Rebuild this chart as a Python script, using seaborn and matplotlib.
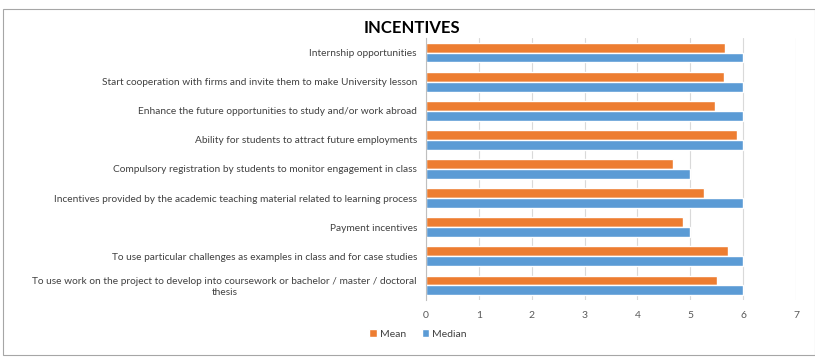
import numpy as np
import pandas as pd
import matplotlib.pyplot as plt
import seaborn as sns
from matplotlib.patches import Rectangle

# Chart data
categories = [
    "Internship opportunities",
    "Start cooperation with firms and invite them to make University lesson",
    "Enhance the future opportunities to study and/or work abroad",
    "Ability for students to attract future employments",
    "Compulsory registration by students to monitor engagement in class",
    "Incentives provided by the academic teaching material related to learning process",
    "Payment incentives",
    "To use particular challenges as examples in class and for case studies",
    "To use work on the project to develop into coursework or bachelor / master / doctoral\nthesis",
]
mean_vals = [5.65, 5.63, 5.46, 5.88, 4.67, 5.26, 4.86, 5.71, 5.50]
median_vals = [6, 6, 6, 6, 5, 6, 5, 6, 6]
series = ["Mean", "Median"]

df = pd.DataFrame({
    "category": categories * 2,
    "value": mean_vals + median_vals,
    "series": ["Mean"] * len(categories) + ["Median"] * len(categories),
})

sns.set_style("white")
plt.rcParams["font.family"] = ["Lato", "DejaVu Sans"]

fig = plt.figure(figsize=(8.15, 3.64), dpi=100)
ax = fig.add_axes([426 / 815, 1 - 300 / 364, 370 / 815, 262 / 364])

sns.barplot(data=df, y="category", x="value", hue="series", order=categories,
            hue_order=series, palette=["#ED7D31", "#5B9BD5"], orient="h",
            width=0.68, saturation=1, ax=ax)

ax.set_xlim(0, 7)
ax.set_xticks(range(8))
ax.grid(axis="x", color="#d9d9d9", linewidth=0.8)
ax.set_axisbelow(True)
for s in ["top", "right", "bottom"]:
    ax.spines[s].set_visible(False)
ax.spines["left"].set_color("#bfbfbf")
ax.spines["left"].set_linewidth(0.8)
ax.tick_params(axis="x", labelsize=7.5, colors="#595959", length=0, pad=8)
ax.tick_params(axis="y", labelsize=7.3, colors="#404040", length=3, color="#bfbfbf")
for lbl in ax.get_yticklabels():
    lbl.set_multialignment("center")
ax.set_xlabel("")
ax.set_ylabel("")

ax.legend(loc="center", bbox_to_anchor=(418 / 815, 1 - 334 / 364),
          bbox_transform=fig.transFigure, ncol=2, frameon=False, fontsize=7.5,
          handlelength=0.7, handleheight=0.7, columnspacing=1.5, handletextpad=0.3,
          labelcolor="#404040")

fig.text(412 / 815, 1 - 28 / 364, "INCENTIVES", ha="center", va="center",
         fontsize=12, fontweight="bold", color="#000000")

fig.patches.append(Rectangle((3 / 815, 1 - 355 / 364), 812 / 815, 346 / 364,
                             transform=fig.transFigure, fill=False,
                             edgecolor="#a6a6a6", linewidth=0.8))

fig.savefig("out.png", dpi=100)
